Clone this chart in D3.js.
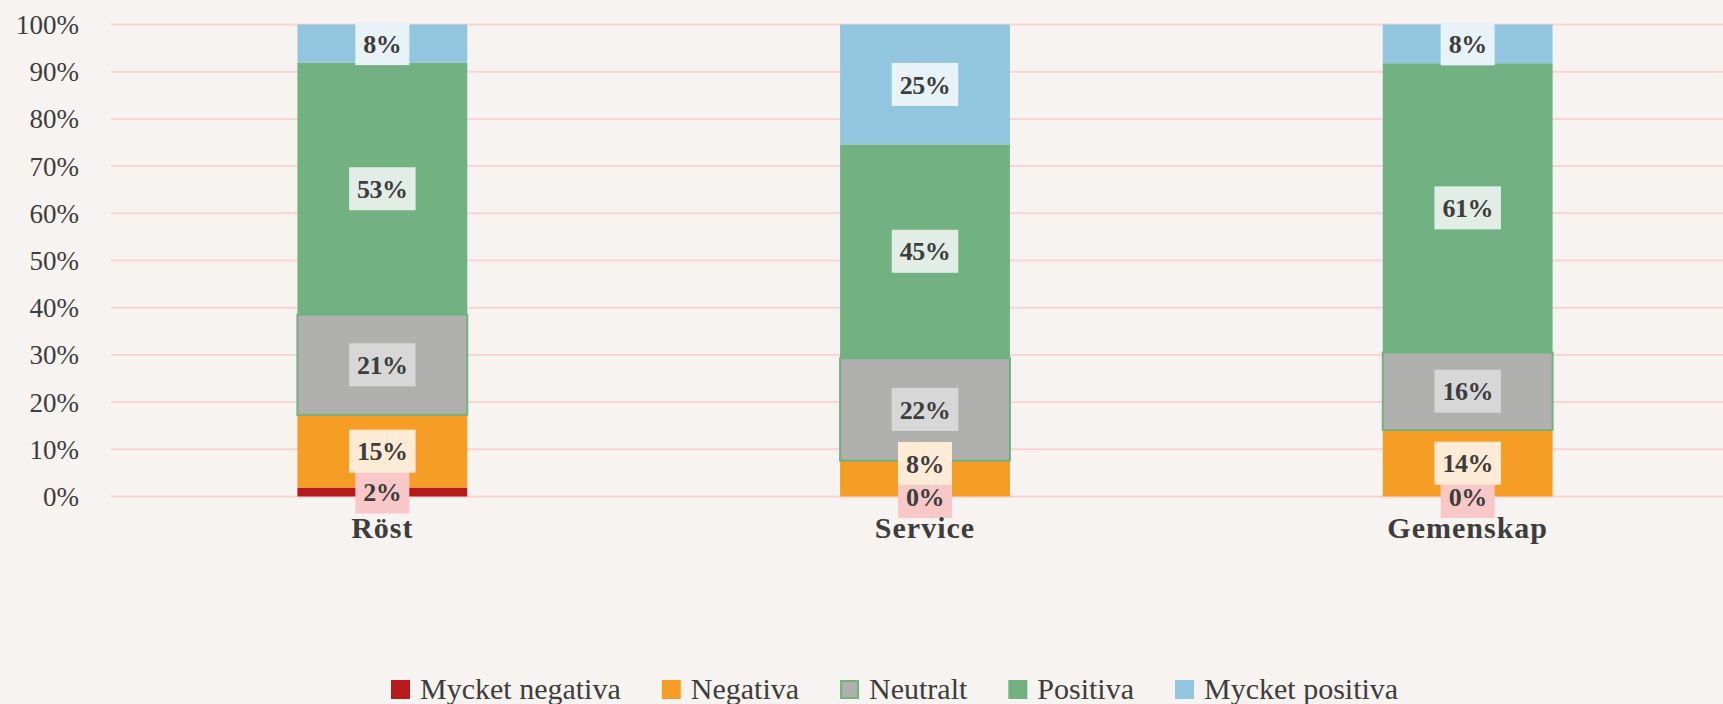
<!DOCTYPE html>
<html>
<head>
<meta charset="utf-8">
<script src="https://cdn.jsdelivr.net/npm/d3@7"></script>
<style>
  html, body { margin: 0; padding: 0; background: #f7f3f0; }
  svg { display: block; font-family: "Liberation Serif", "DejaVu Serif", serif; }
</style>
</head>
<body>
<div id="chart"></div>
<script>
// data (share of answers, percent)
var categories = ['Röst', 'Service', 'Gemenskap'];
var seriesNames = ['Mycket negativa', 'Negativa', 'Neutralt', 'Positiva', 'Mycket positiva'];
var mycketNegativa = [1.9, 0.0, 0.0];
var negativa = [15.4, 7.6, 14.1];
var neutralt = [21.2, 21.7, 16.4];
var positiva = [53.4, 45.3, 61.3];
var mycketPositiva = [8.1, 25.4, 8.2];
var yTicks = [0, 10, 20, 30, 40, 50, 60, 70, 80, 90, 100];

var seriesValues = [mycketNegativa, negativa, neutralt, positiva, mycketPositiva];
var colors = ['#b71a1b', '#f59d24', '#b0b0af', '#72b182', '#92c6df'];
var labelBg = ['#f8c8c8', '#fdebd6', '#d7d7d7', '#e2ede5', '#e8f3f8'];
var textColor = '#3d3d3d';

var width = 1723, height = 704;
var margin = {top: 24.5, left: 111};
var plotRight = 1739, plotBottom = 496.5;
var boxH = 43, maxOverlap = 10;

var svg = d3.select('#chart').append('svg')
    .attr('width', width)
    .attr('height', height);

svg.append('rect')
    .attr('width', width)
    .attr('height', height)
    .attr('fill', '#f7f3f0');

var xScale = d3.scaleBand()
    .domain(categories)
    .range([margin.left, plotRight])
    .paddingInner(0.687)
    .paddingOuter(0.3435);

var yScale = d3.scaleLinear()
    .domain([0, 100])
    .range([plotBottom, margin.top]);

// gridlines
svg.append('g').selectAll('line')
    .data(yTicks)
    .enter()
    .append('line')
    .attr('x1', margin.left)
    .attr('x2', plotRight)
    .attr('y1', function(d) { return yScale(d); })
    .attr('y2', function(d) { return yScale(d); })
    .attr('stroke', '#f9d4d4')
    .attr('stroke-width', 2);

// y axis labels
svg.append('g').selectAll('text')
    .data(yTicks)
    .enter()
    .append('text')
    .attr('x', 79)
    .attr('y', function(d) { return yScale(d); })
    .attr('dy', '0.35em')
    .attr('text-anchor', 'end')
    .attr('font-size', 27)
    .attr('fill', textColor)
    .text(function(d) { return d + '%'; });

// stack the series
var rows = categories.map(function(c, i) {
    var row = {category: c};
    seriesNames.forEach(function(s, j) { row[s] = seriesValues[j][i]; });
    return row;
});
var stacked = d3.stack().keys(seriesNames)(rows);

var bars = svg.append('g');
stacked.forEach(function(layer, j) {
    bars.selectAll('rect.s' + j)
        .data(layer)
        .enter()
        .append('rect')
        .attr('class', 's' + j)
        .attr('x', function(d) { return xScale(d.data.category); })
        .attr('width', xScale.bandwidth())
        .attr('y', function(d) { return yScale(d[1]); })
        .attr('height', function(d) { return yScale(d[0]) - yScale(d[1]); })
        .attr('fill', colors[j])
        .attr('stroke', j === 2 ? '#72b182' : 'none')
        .attr('stroke-width', j === 2 ? 2 : 0);
});

// data labels with light boxes; a label is pushed up when it would
// cover too much of the label below it in the same bar
var labels = svg.append('g');
var lastTop = {};
stacked.forEach(function(layer, j) {
    layer.forEach(function(d) {
        var cat = d.data.category;
        var cx = xScale(cat) + xScale.bandwidth() / 2;
        var cy = yScale((d[0] + d[1]) / 2);
        if (lastTop[cat] !== undefined && cy + boxH / 2 - lastTop[cat] > maxOverlap) {
            cy = lastTop[cat] + maxOverlap - boxH / 2;
        }
        lastTop[cat] = cy - boxH / 2;
        var g = labels.append('g');
        var rect = g.append('rect').attr('fill', labelBg[j]);
        var t = g.append('text')
            .attr('x', cx)
            .attr('y', cy)
            .attr('dy', '0.35em')
            .attr('text-anchor', 'middle')
            .attr('font-size', 26)
            .attr('font-weight', 'bold')
            .attr('letter-spacing', -0.5)
            .attr('fill', textColor)
            .text(Math.round(d[1] - d[0]) + '%');
        var w = t.node().getComputedTextLength() + 16;
        rect.attr('x', cx - w / 2)
            .attr('y', cy - boxH / 2)
            .attr('width', w)
            .attr('height', boxH);
    });
});

// category labels
svg.append('g').selectAll('text')
    .data(categories)
    .enter()
    .append('text')
    .attr('x', function(d) { return xScale(d) + xScale.bandwidth() / 2; })
    .attr('y', 538)
    .attr('text-anchor', 'middle')
    .attr('font-size', 30)
    .attr('font-weight', 'bold')
    .attr('letter-spacing', 1)
    .attr('fill', textColor)
    .text(function(d) { return d; });

// legend
var legend = svg.append('g');
var lx = 391;
seriesNames.forEach(function(name, j) {
    legend.append('rect')
        .attr('x', j === 2 ? lx + 1 : lx)
        .attr('y', j === 2 ? 681 : 680)
        .attr('width', j === 2 ? 17 : 19)
        .attr('height', j === 2 ? 17 : 19)
        .attr('fill', colors[j])
        .attr('stroke', j === 2 ? '#72b182' : 'none')
        .attr('stroke-width', j === 2 ? 2 : 0);
    var t = legend.append('text')
        .attr('x', lx + 29)
        .attr('y', 699)
        .attr('font-size', 30)
        .attr('fill', textColor)
        .text(name);
    lx += 29 + t.node().getComputedTextLength() + 41;
});
</script>
</body>
</html>
